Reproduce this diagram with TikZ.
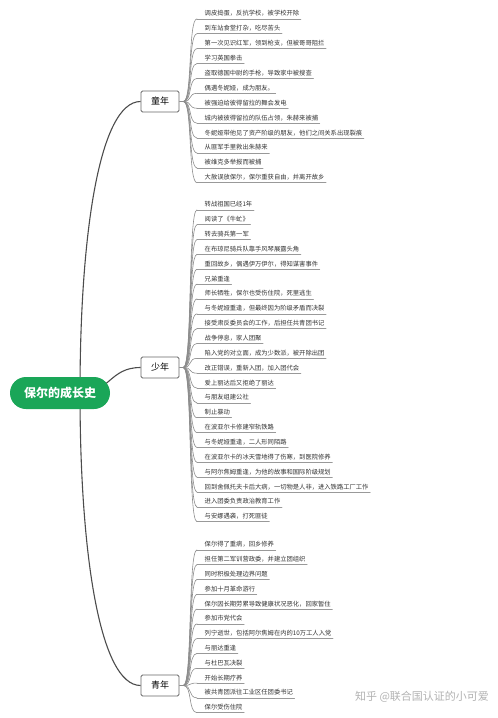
\documentclass[tikz,border=0pt]{standalone}
\usepackage{fontspec}
\usepackage{xcolor}
\usepackage{tikz}
\newfontfamily\cjk{Noto Sans CJK SC}
\definecolor{rootgreen}{RGB}{26,166,88}
\pgfdeclarelayer{background}
\pgfsetlayers{background,main}

\begin{document}
\begin{tikzpicture}[x=1pt, y=-1pt, line cap=round, line join=round,
  rootbox/.style={fill=rootgreen, text=white, rounded corners=16pt, minimum width=100pt, minimum height=32pt, inner sep=0pt, font=\cjk\bfseries\fontsize{12}{14}\selectfont},
  agebox/.style={draw=black!60, fill=white, line width=0.8pt, rounded corners=1.5pt, minimum width=38pt, minimum height=21pt, inner sep=0pt, font=\cjk\fontsize{9}{11}\selectfont},
  leaf/.style={anchor=west, inner xsep=1.5pt, inner ysep=1.5pt, text height=5pt, text depth=1.3pt, text=black!80, font=\cjk\fontsize{6.3}{7.5}\selectfont},
  trunk/.style={draw=black!70, line width=1.1pt},
  twig/.style={draw=black!45, line width=0.6pt},
  uline/.style={draw=black!40, line width=0.6pt}]

\useasboundingbox (0,0) rectangle (498,718);

% parameters
\def\lx{203}
\def\dy{14.85}

% root and age groups
\node[rootbox] (root) at (60,393) {保尔的成长史};
\node[agebox] (child) at (160,101.5) {童年};
\node[agebox] (teen) at (160,367.5) {少年};
\node[agebox] (youth) at (160,685.5) {青年};

\begin{pgfonlayer}{background}
\draw[trunk] ([xshift=20pt]root.center) .. controls +(0,-160) and +(-41,0) .. (child.west);
\draw[trunk] ([xshift=20pt]root.center) .. controls +(30,0) and +(-31,0) .. (teen.west);
\draw[trunk] ([xshift=20pt]root.center) .. controls +(0,160) and +(-41,0) .. (youth.west);
\end{pgfonlayer}

% stubs
\draw[twig] (child.east) -- ++(4,0);
\draw[twig] (teen.east) -- ++(4,0);
\draw[twig] (youth.east) -- ++(4,0);

% childhood
\foreach \txt [count=\i] in {调皮捣蛋，反抗学校，被学校开除, 到车站食堂打杂，吃尽苦头,
  第一次见识红军，领到枪支，但被哥哥阻拦, 学习英国拳击, 盗取德国中尉的手枪，导致家中被搜查,
  偶遇冬妮娅，成为朋友。, 被强迫给彼得留拉的舞会发电, 城内被彼得留拉的队伍占领，朱赫来被捕,
  冬妮娅带他见了资产阶级的朋友，他们之间关系出现裂痕, 从匪军手里救出朱赫来,
  被维克多举报而被捕, 大赦误放保尔，保尔重获自由，并离开故乡}{
  \node[leaf] (c\i) at (\lx,{14+(\i-1)*14.9}) {\txt};
  \draw[uline] ([xshift=-6pt]c\i.south west) -- (c\i.south east);
  \draw[twig] ([xshift=4pt]child.east) .. controls +(9,0) and +(-9,0) .. ([xshift=-6pt]c\i.south west);
}

% adolescence
\foreach \txt [count=\i] in {转战祖国已经1年, 阅读了《牛虻》, 转去骑兵第一军,
  在布琼尼骑兵队靠手风琴展露头角, 重回故乡，偶遇伊万伊尔，得知谋害事件, 兄弟重逢,
  师长牺牲，保尔也受伤住院，死里逃生, 与冬妮娅重逢，但最终因为阶级矛盾而决裂,
  接受肃反委员会的工作，后担任共青团书记, 战争停息，家人团聚,
  陷入党的对立面，成为少数派，被开除出团, 改正错误，重新入团，加入团代会,
  爱上丽达后又拒绝了丽达, 与朋友组建公社, 制止暴动, 在波亚尔卡修建窄轨铁路,
  与冬妮娅重逢，二人形同陌路, 在波亚尔卡的冰天雪地得了伤寒，到医院修养,
  与阿尔焦姆重逢，为他的故事和国际阶级规划,
  回到舍佩托夫卡后大病，一切物是人非，进入铁路工厂工作,
  进入团委负责政治教育工作, 与安娜遇袭，打死匪徒}{
  \node[leaf] (t\i) at (\lx,{205+(\i-1)*\dy}) {\txt};
  \draw[uline] ([xshift=-6pt]t\i.south west) -- (t\i.south east);
  \draw[twig] ([xshift=4pt]teen.east) .. controls +(9,0) and +(-9,0) .. ([xshift=-6pt]t\i.south west);
}

% youth
\foreach \txt [count=\i] in {保尔得了重病，回乡修养, 担任第二军训营政委，并建立团组织,
  同时积极处理边界问题, 参加十月革命游行, 保尔因长期劳累导致健康状况恶化，回家暂住,
  参加市党代会, 列宁逝世，包括阿尔焦姆在内的10万工人入党, 与丽达重逢, 与杜巴瓦决裂,
  开始长期疗养, 被共青团派往工业区任团委书记, 保尔受伤住院}{
  \node[leaf] (y\i) at (\lx,{545+(\i-1)*14.8}) {\txt};
  \draw[uline] ([xshift=-6pt]y\i.south west) -- (y\i.south east);
  \draw[twig] ([xshift=4pt]youth.east) .. controls +(9,0) and +(-9,0) .. ([xshift=-6pt]y\i.south west);
}

% watermark
\node[text=black!30, font=\cjk\fontsize{11}{13}\selectfont] (mark) at (422,697) {知乎 @联合国认证的小可爱};

\end{tikzpicture}
\end{document}
